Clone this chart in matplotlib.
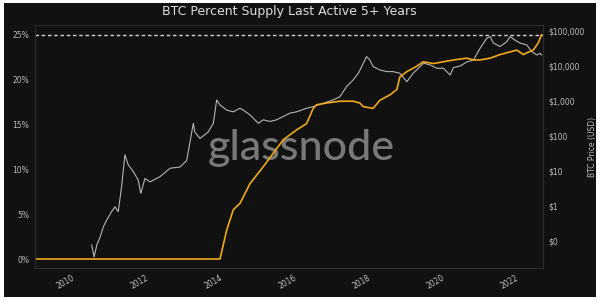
import numpy as np
import matplotlib.pyplot as plt
from matplotlib.patches import Rectangle
from matplotlib.ticker import FuncFormatter, FixedLocator

# percent of supply last active 5+ years (left axis)
supply_t = [2009.0, 2014.0, 2014.18, 2014.36, 2014.54, 2014.81, 2015.17, 2015.44, 2015.71,
            2016.07, 2016.34, 2016.52, 2016.61, 2016.88, 2017.24, 2017.60, 2017.78, 2017.87,
            2018.14, 2018.32, 2018.59, 2018.78, 2018.86, 2019.05, 2019.32, 2019.49, 2019.77,
            2020.04, 2020.31, 2020.67, 2020.85, 2021.03, 2021.30, 2021.57, 2021.84, 2022.02,
            2022.20, 2022.29, 2022.47, 2022.60, 2022.69]
supply_pct = [0, 0, 3.2, 5.5, 6.2, 8.4, 10.3, 11.8, 13.3,
              14.4, 15.1, 16.8, 17.2, 17.4, 17.6, 17.6, 17.4, 17.0,
              16.8, 17.7, 18.3, 18.9, 20.3, 20.9, 21.5, 22.0, 21.8,
              22.0, 22.2, 22.4, 22.2, 22.2, 22.4, 22.8, 23.1, 23.3,
              22.8, 23.0, 23.3, 24.1, 25.0]

# BTC price in USD (right axis, log)
price_t = [2010.53, 2010.60, 2010.67, 2010.76, 2010.85, 2010.94, 2011.07, 2011.16, 2011.25,
           2011.34, 2011.43, 2011.52, 2011.66, 2011.79, 2011.86, 2011.97, 2012.11, 2012.38,
           2012.65, 2012.92, 2013.10, 2013.28, 2013.32, 2013.46, 2013.68, 2013.82, 2013.91,
           2014.00, 2014.18, 2014.36, 2014.54, 2014.63, 2014.81, 2015.04, 2015.17, 2015.35,
           2015.53, 2015.71, 2015.89, 2016.07, 2016.34, 2016.52, 2016.79, 2017.06, 2017.24,
           2017.42, 2017.60, 2017.74, 2017.83, 2017.96, 2018.05, 2018.14, 2018.32, 2018.51,
           2018.68, 2018.86, 2019.05, 2019.22, 2019.41, 2019.50, 2019.68, 2019.86, 2020.04,
           2020.22, 2020.31, 2020.49, 2020.67, 2020.85, 2021.03, 2021.21, 2021.30, 2021.39,
           2021.57, 2021.75, 2021.84, 2021.97, 2022.11, 2022.29, 2022.42, 2022.56, 2022.65,
           2022.69]
price_usd = [0.077, 0.035, 0.077, 0.13, 0.26, 0.40, 0.69, 0.95, 0.69,
             3.5, 29, 15, 9.5, 5.5, 2.3, 6.1, 4.9, 6.9,
             12, 13, 20, 230, 130, 85, 130, 230, 1070,
             770, 550, 490, 620, 550, 400, 230, 290, 260,
             290, 360, 450, 490, 620, 690, 860, 1070, 1320,
             2560, 4000, 6200, 9600, 18600, 14800, 9600, 7700, 6900,
             6900, 6200, 3550, 6200, 9600, 12000, 10700, 8600, 8600,
             5500, 9000, 10000, 13000, 14800, 32000, 62000, 69000, 45000,
             36000, 49000, 69000, 55000, 45000, 40000, 26000, 20600, 23000,
             20600]

year_ticks = [2010, 2012, 2014, 2016, 2018, 2020, 2022]
pct_ticks = [0, 5, 10, 15, 20, 25]
price_ticks = [0.1, 1, 10, 100, 1000, 10000, 100000]

bg = '#111111'
txt = '#bdbdbd'
gold = '#f0a91c'

fig = plt.figure(figsize=(6, 3), dpi=100, facecolor='white')
fig.patches.append(Rectangle((0.007, 0.01), 0.986, 0.98, transform=fig.transFigure,
                             facecolor=bg, edgecolor='none', zorder=-5))

ax = fig.add_axes([0.0583, 0.1067, 0.8467, 0.81])
ax2 = ax.twinx()
ax.set_facecolor(bg)
ax2.set_facecolor(bg)
ax.set_zorder(ax2.get_zorder() + 1)
ax.patch.set_visible(False)

# watermark sits under both lines
ax2.text(0.525, 0.494, 'glassnode', transform=ax.transAxes, color='#787878', fontsize=31,
         ha='center', va='center', family='Lato', fontweight='medium', zorder=1)

ax2.set_yscale('log')
ax2.plot(price_t, price_usd, color='#b5b5b5', lw=0.8, zorder=2)
ax2.set_ylim(0.017, 148000)
ax2.yaxis.set_major_locator(FixedLocator(price_ticks))
ax2.yaxis.set_minor_locator(FixedLocator([]))
ax2.yaxis.set_major_formatter(FuncFormatter(lambda v, p: f'${v:,.0f}'))
ax2.set_ylabel('BTC Price (USD)', color=txt, fontsize=5.5, labelpad=2)

ax.plot(supply_t, supply_pct, color=gold, lw=1.2)
ax.axhline(25, color='#d0d0d0', lw=1, ls=(0, (2.5, 2)))
ax.set_ylim(-1.0, 26.1)
ax.set_xlim(2009.0, 2022.73)
ax.set_yticks(pct_ticks)
ax.set_yticklabels([f'{p}%' for p in pct_ticks])
ax.set_xticks(year_ticks)
ax.set_xticklabels([str(y) for y in year_ticks], rotation=30, ha='right', rotation_mode='anchor')

for a in (ax, ax2):
    a.tick_params(colors=txt, labelsize=5.5, length=0, pad=4)
    for s in a.spines.values():
        s.set_color('#2c2c2c')
        s.set_linewidth(0.8)

ax.set_title('BTC Percent Supply Last Active 5+ Years', color='#dddddd', fontsize=9, pad=7)

fig.savefig('out.png', dpi=100, facecolor=fig.get_facecolor())
